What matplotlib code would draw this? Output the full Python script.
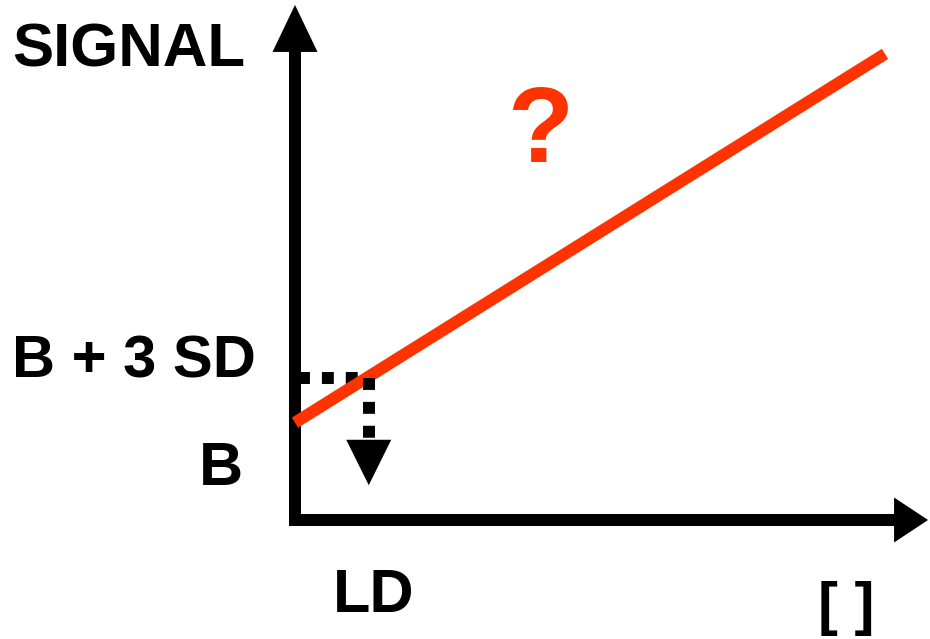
import matplotlib.pyplot as plt

# calibration curve sketch: signal vs concentration, limit of detection
conc = [0.0, 10.0]
signal = [1.65, 7.9]
blank = 1.65
b_plus_3sd = 2.41
ld = 1.25
ld_arrow_base = 1.36
ld_arrow_tip = 0.59

labels = ['SIGNAL', 'B + 3 SD', 'B', 'LD', '[ ]']
red = '#ff3300'
px = 59.0  # pixels per data unit

fig = plt.figure(figsize=(9.3, 6.39), dpi=100)
ax = fig.add_axes([0, 0, 1, 1])
ax.set_xlim(-295 / px, (930 - 295) / px)
ax.set_ylim(-(639 - 520) / px, 520 / px)
ax.set_aspect('equal')
ax.axis('off')

lw = 12 / px
# axes with arrow heads
ax.arrow(-0.1, 0, 10.83, 0, width=lw, head_width=45 / px, head_length=34 / px,
         length_includes_head=True, color='black', lw=0)
ax.arrow(0, -0.1, 0, 8.83, width=lw, head_width=45 / px, head_length=47 / px,
         length_includes_head=True, color='black', lw=0)

# calibration line
ax.plot(conc, signal, color=red, lw=8.6, solid_capstyle='butt', zorder=3)

# dotted guide lines to LD
ax.plot([0.05, ld], [b_plus_3sd, b_plus_3sd], color='black', lw=8.6,
        linestyle=(0, (1, 1)), dash_capstyle='butt', zorder=2)
ax.plot([ld, ld], [b_plus_3sd, ld_arrow_base], color='black', lw=8.6,
        linestyle=(0, (1, 1)), dash_capstyle='butt', zorder=4)
ax.arrow(ld, ld_arrow_base, 0, ld_arrow_tip - ld_arrow_base, width=0.001,
         head_width=45 / px, head_length=ld_arrow_base - ld_arrow_tip,
         length_includes_head=True, color='black', lw=0)

font = dict(family='Liberation Sans', weight='bold', va='baseline', ha='left')
ax.text(-4.80, 7.68, labels[0], fontsize=44.5, **font)
ax.text(-4.80, b_plus_3sd, labels[1], fontsize=43, **font)
ax.text(-1.63, 0.59, labels[2], fontsize=44, **font)
ax.text(0.64, -1.56, labels[3], fontsize=44, **font)
ax.text(8.86, -1.76, labels[4], fontsize=43, **font)
ax.text(3.59, 6.07, '?', color=red, fontsize=78, **font)

fig.savefig('out.png', dpi=100)
